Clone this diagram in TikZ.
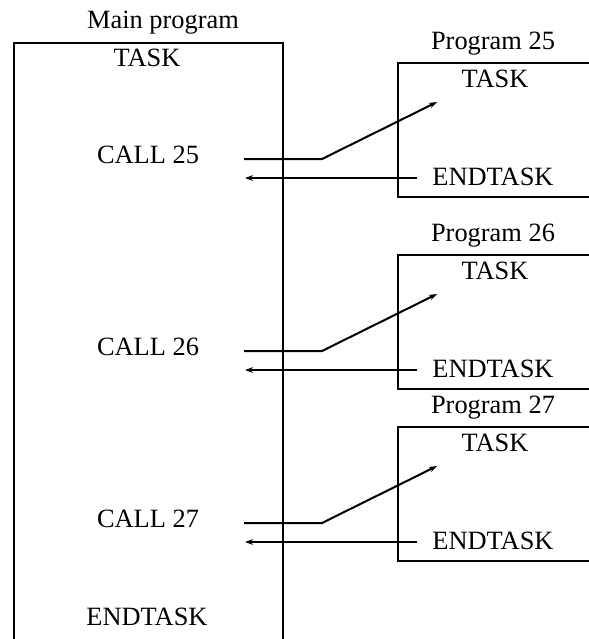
\documentclass[tikz,border=0pt]{standalone}
\usepackage{fontspec}
\setmainfont{Liberation Serif}
\usetikzlibrary{arrows.meta}
\begin{document}
\begin{tikzpicture}[x=0.5pt,y=-0.5pt,
  lbl/.style={anchor=base,inner sep=0pt,font=\fontsize{13.2}{15}\selectfont},
  frame/.style={line width=0.6pt},
  flow/.style={line width=1pt},
  tip/.style={-{Stealth[length=4pt,width=2.8pt]}}]
\useasboundingbox (0,0) rectangle (589,639);

% main program frame (open at the bottom)
\draw[frame] (14,640) -- (14,43) -- (283,43) -- (283,640);
\node[lbl] (mainlbl) at (163,28) {Main program};
\node[lbl] (maintask) at (147,66) {TASK};
\node[lbl] (mainend) at (147,625) {ENDTASK};

% called programs, each with its call and return
\foreach \n/\t in {25/63, 26/255, 27/427}{
  \draw[frame] (590,\t) -- (398,\t) -- (398,\t+134) -- (590,\t+134);
  \node[lbl] (prog\n) at (493,\t-14) {Program \n};
  \node[lbl] (task\n) at (495,\t+24) {TASK};
  \node[lbl] (end\n) at (493,\t+122) {ENDTASK};
  \node[lbl] (call\n) at (148,\t+100) {CALL \n};
  \coordinate (out\n) at (244,\t+96);
  \coordinate (bend\n) at (322,\t+96);
  \coordinate (in\n) at (437,\t+39);
  \coordinate (ret\n) at (417,\t+115);
  \coordinate (back\n) at (245,\t+115);
  \draw[flow,tip] (out\n) -- (bend\n) -- (in\n);
  \draw[flow,tip] (ret\n) -- (back\n);
}
\end{tikzpicture}
\end{document}
